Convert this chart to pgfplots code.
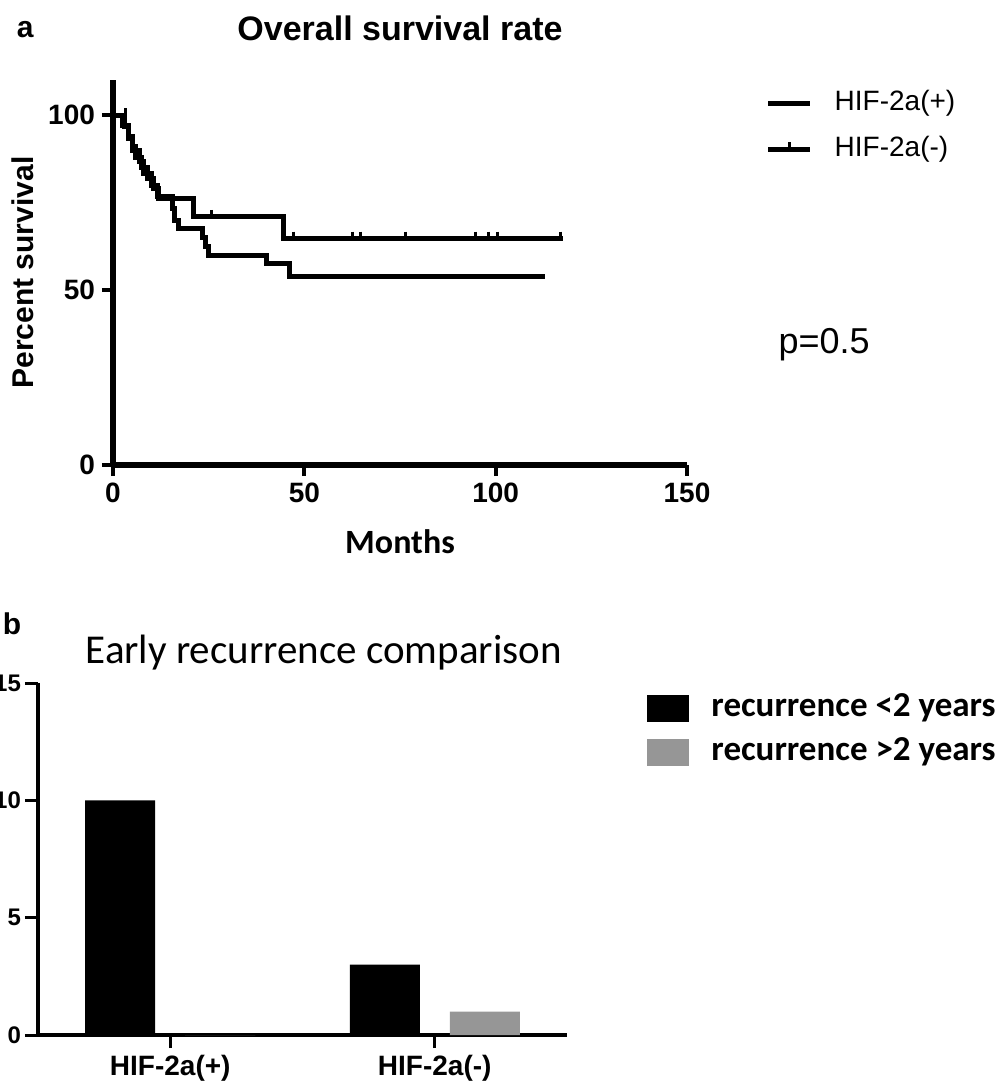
\documentclass[border=0pt]{standalone}
\usepackage{fontspec}
\setmainfont{Liberation Sans}
\newfontfamily\carlito{Carlito}
\usepackage{pgfplots}
\pgfplotsset{compat=1.18}

\definecolor{bargray}{RGB}{150,150,150}

\begin{document}
\begin{tikzpicture}
\useasboundingbox (0,0) rectangle (501.5pt,-540.5pt);

% panel a: Kaplan-Meier curves
\begin{axis}[
  at={(56.5pt,-232.5pt)}, anchor=south west,
  scale only axis, width=287pt, height=192.5pt,
  xmin=0, xmax=150, ymin=0, ymax=110,
  axis lines=left,
  axis line style={line width=3pt, -},
  xtick={0,50,100,150}, ytick={0,50,100},
  tick align=outside, major tick length=5.5pt,
  tick style={line width=2pt, black},
  ticklabel style={font=\bfseries\fontsize{14}{14}\selectfont},
  /pgf/number format/assume math mode=true,
  xlabel={Months},
  xlabel style={at={(axis description cs:0.5,-0.2)}, anchor=center,
    font=\carlito\bfseries\fontsize{17}{17}\selectfont},
  ylabel={Percent survival},
  ylabel style={at={(axis description cs:-0.157,0.5)}, anchor=center,
    font=\bfseries\fontsize{15}{15}\selectfont},
  title={Overall survival rate},
  title style={at={(axis description cs:0.5,1.102)}, anchor=center,
    font=\bfseries\fontsize{17}{17}\selectfont},
  clip=false,
  legend style={at={(axis description cs:1.126,0.985)}, anchor=north west,
    draw=none, fill=none, font=\fontsize{14}{14}\selectfont,
    row sep=10pt, nodes={inner sep=0pt, text height=10pt, text depth=3pt},
    /tikz/every odd column/.append style={column sep=11pt}},
  legend cell align=left,
]
\addplot[line width=2.5pt, const plot mark left, mark=none,
  legend image code/.code={\draw[line width=2.5pt] (0pt,0pt) -- (21pt,0pt);}]
  coordinates {(0,100) (3,96.7) (4,93.3) (5,90) (7,86.7) (8,83.3) (10,80)
    (11.5,76.7) (15.5,73.3) (16.2,70) (17,67.6) (23.5,65) (24.2,62.5)
    (25,60) (40.2,57.6) (46,53.8) (113,53.8)};
\addlegendentry{HIF-2a(+)}
\addplot[line width=2.5pt, const plot mark left, mark=none,
  legend image code/.code={\draw[line width=2.5pt] (0pt,0pt) -- (21pt,0pt);
    \draw[line width=1.5pt] (10.5pt,0pt) -- (10.5pt,3.5pt);}]
  coordinates {(0,100) (2.5,97) (4,94) (5,91) (6,88) (7.5,85) (9,82)
    (10.5,79) (12,76.2) (21,70.9) (44.5,64.7) (117.5,64.7)};
\addlegendentry{HIF-2a(-)}
% censored observations
\addplot[only marks, mark=|, mark size=2pt, forget plot,
  mark options={line width=1.5pt, yshift=1.5pt}]
  coordinates {(3.2,100) (25.8,70.9) (47.2,64.7) (62.5,64.7) (64.7,64.7)
    (76.4,64.7) (94.8,64.7) (98,64.7) (100.5,64.7) (117,64.7)};
\node[font=\bfseries\fontsize{15}{15}\selectfont]
  at (axis description cs:-0.153,1.13) {a};
\node[font=\fontsize{18}{18}\selectfont]
  at (axis description cs:1.239,0.312) {p=0.5};
\end{axis}

% panel b: recurrence bars
\begin{axis}[
  at={(19pt,-517.5pt)}, anchor=south west,
  scale only axis, width=264.5pt, height=176pt,
  xmin=-0.5, xmax=1.5, ymin=0, ymax=15,
  axis lines=left, axis line style={line width=2pt, -},
  ybar=15pt, bar width=35pt,
  xtick={0,1}, xticklabels={HIF-2a(+),HIF-2a(-)},
  ytick={0,5,10,15},
  tick align=outside, major tick length=6.5pt,
  tick style={line width=1.5pt, black},
  xticklabel style={font=\bfseries\fontsize{14}{14}\selectfont},
  yticklabel style={font=\bfseries\fontsize{12}{12}\selectfont, xshift=1.5pt},
  /pgf/number format/assume math mode=true,
  title={Early recurrence comparison},
  title style={at={(axis description cs:0.54,1.053)}, anchor=center,
    font=\carlito\fontsize{20.5}{20.5}\selectfont},
  clip=false,
  legend style={at={(axis description cs:1.140,0.980)}, anchor=north west,
    draw=none, fill=none, font=\carlito\bfseries\fontsize{17.5}{17.5}\selectfont,
    row sep=7.5pt, nodes={inner sep=0pt, text height=11pt, text depth=3.5pt},
    /tikz/every odd column/.append style={column sep=11pt}},
  legend cell align=left,
]
\addplot[fill=black, draw=none,
  legend image code/.code={\fill[black] (0pt,-6.75pt) rectangle (21pt,6.75pt);}]
  coordinates {(0,10) (1,3)};
\addlegendentry{recurrence <2 years}
\addplot[fill=bargray, draw=none,
  legend image code/.code={\fill[bargray] (0pt,-6.75pt) rectangle (21pt,6.75pt);}]
  coordinates {(0,0) (1,1)};
\addlegendentry{recurrence >2 years}
\node[font=\bfseries\fontsize{15}{15}\selectfont]
  at (axis description cs:-0.049,1.168) {b};
\end{axis}
\end{tikzpicture}
\end{document}
